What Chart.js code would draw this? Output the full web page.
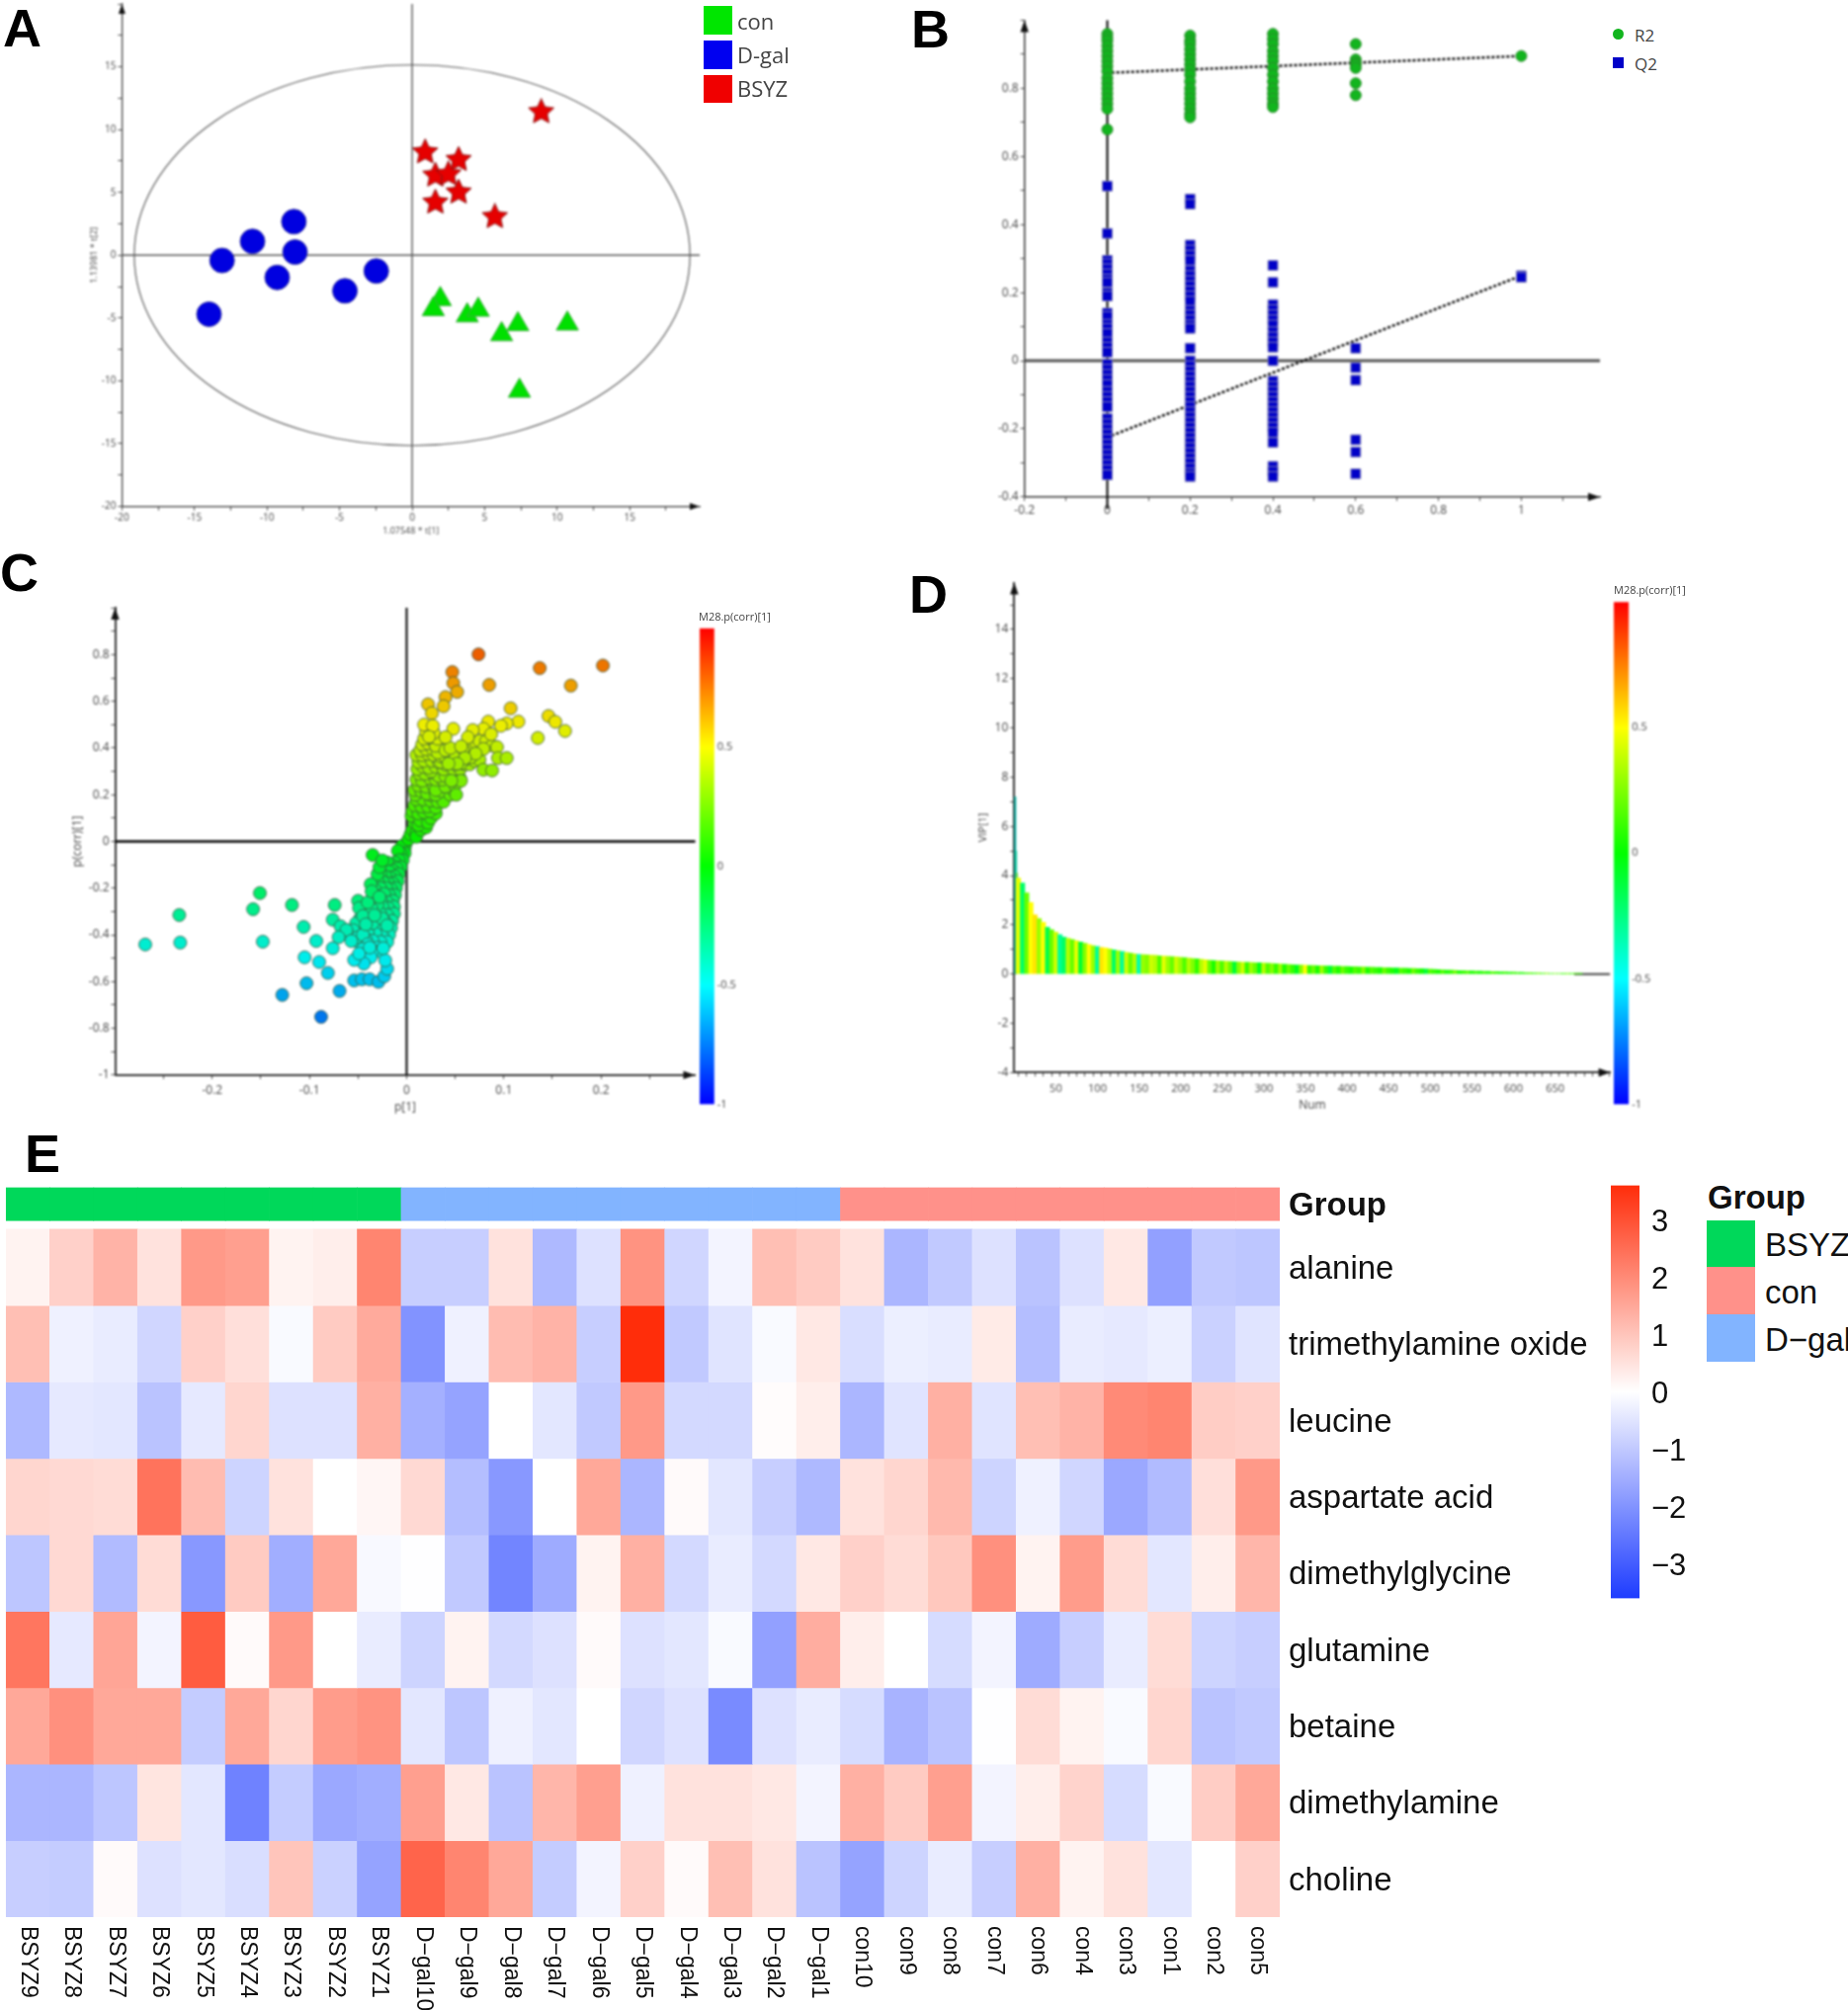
<!DOCTYPE html>
<html>
<head>
<meta charset="utf-8">
<title>Metabolomics panels</title>
<script src="https://cdn.jsdelivr.net/npm/chart.js@4"></script>
<style>
  html, body { margin: 0; background: #fff; }
  #page { position: relative; width: 1870px; height: 2034px; overflow: hidden; }
  canvas { position: absolute; }
  .soft { filter: blur(0.8px); }
  .t { position: absolute; white-space: nowrap; transform: translateY(-50%); line-height: 1; color: #111; }
  .letter { font: bold 54px "Liberation Sans"; color: #000; }
  .seg { font-family: "Open Sans"; color: #444; }
  .heat { font: 33px "Liberation Sans"; color: #111; }
  .sw { position: absolute; }
</style>
</head>
<body>
<div id="page">
  <canvas id="chartA" class="soft"></canvas>
  <canvas id="chartB" class="soft"></canvas>
  <canvas id="chartC" class="soft"></canvas>
  <canvas id="barC" class="soft"></canvas>
  <canvas id="chartD" class="soft"></canvas>
  <canvas id="barD" class="soft"></canvas>
  <canvas id="chartE"></canvas>
  <canvas id="barE"></canvas>

  <div class="t letter" style="left:3px;top:28px">A</div>
  <div class="t letter" style="left:922px;top:29px">B</div>
  <div class="t letter" style="left:0;top:579px">C</div>
  <div class="t letter" style="left:920px;top:601px">D</div>
  <div class="t letter" style="left:25px;top:1167px">E</div>

  <div class="sw" style="left:712px;top:6px;width:29px;height:29px;background:#00e600"></div>
  <div class="sw" style="left:712px;top:41px;width:29px;height:29px;background:#0000f0"></div>
  <div class="sw" style="left:712px;top:76px;width:29px;height:28px;background:#f00000"></div>
  <div class="t seg" style="left:746px;top:21px;font-size:22px">con</div>
  <div class="t seg" style="left:746px;top:55px;font-size:22px">D-gal</div>
  <div class="t seg" style="left:746px;top:89px;font-size:22px">BSYZ</div>

  <div class="sw" style="left:1632px;top:29px;width:11px;height:11px;border-radius:50%;background:#12b51e"></div>
  <div class="sw" style="left:1632px;top:58px;width:11px;height:11px;background:#0000c8"></div>
  <div class="t seg" style="left:1654px;top:35px;font-size:17px">R2</div>
  <div class="t seg" style="left:1654px;top:64px;font-size:17px">Q2</div>

  <div class="t seg" style="left:707px;top:623px;font-size:11px">M28.p(corr)[1]</div>
  <div class="t seg" style="left:1633px;top:596px;font-size:11px">M28.p(corr)[1]</div>

  <div class="t heat" style="left:1728px;top:1212px;font-weight:bold">Group</div>
  <div class="sw" style="left:1727px;top:1235px;width:49px;height:47px;background:#00d85a"></div>
  <div class="sw" style="left:1727px;top:1282px;width:49px;height:48px;background:#ff918a"></div>
  <div class="sw" style="left:1727px;top:1330px;width:49px;height:48px;background:#82b4ff"></div>
  <div class="t heat" style="left:1786px;top:1260px">BSYZ</div>
  <div class="t heat" style="left:1786px;top:1308px">con</div>
  <div class="t heat" style="left:1786px;top:1356px">D−gal</div>
</div>

<script>
// panel A: score plot
const conX = [1.94, 1.46, 3.8, 4.56, 7.29, 6.17, 10.7, 7.4];
const conY = [-3.5, -4.3, -4.8, -4.35, -5.5, -6.3, -5.45, -10.8];
const dgalX = [-8.15, -11.0, -8.07, -13.1, -9.3, -2.47, -4.63, -14.0];
const dgalY = [2.67, 1.1, 0.25, -0.42, -1.77, -1.26, -2.84, -4.7];
const bsyzX = [8.9, 0.9, 3.2, 1.6, 2.5, 3.2, 1.6, 5.7];
const bsyzY = [11.4, 8.2, 7.6, 6.35, 6.45, 5.0, 4.2, 3.05];
const ellipseRadiusX = 19.15;
const ellipseRadiusY = 15.15;

// panel B: permutation test
const r2At0 = [.96, .95, .94, .925, .91, .895, .88, .865, .85, .83, .815, .80, .785, .77, .755, .74, .679];
const r2At02 = [.955, .94, .93, .915, .90, .885, .87, .855, .84, .82, .80, .785, .77, .755, .74, .725, .715];
const r2At04 = [.96, .945, .93, .91, .895, .88, .86, .84, .82, .80, .785, .77, .755, .745];
const r2At06 = [.93, .885, .875, .87, .86, .815, .78];
const r2At1 = [.895];
const q2At0 = [.513, .374, .295, .285, .27, .255, .24, .23, .2, .19, .14, .13, .107, .095, .08, .055, .04, .025, -.01, -.025, -.04, -.055, -.07, -.09, -.105, -.12, -.135, -.17, -.185, -.2, -.215, -.23, -.245, -.26, -.275, -.29, -.305, -.32, -.335];
const q2At02 = [.475, .46, .34, .325, .31, .295, .265, .25, .235, .22, .205, .19, .175, .148, .135, .12, .105, .095, .037, 0, -.015, -.03, -.045, -.06, -.075, -.09, -.105, -.12, -.135, -.15, -.165, -.18, -.195, -.21, -.225, -.24, -.255, -.27, -.285, -.3, -.315, -.33, -.34];
const q2At04 = [.28, .23, .165, .15, .135, .12, .105, .085, .07, .055, .04, 0, -.06, -.075, -.09, -.105, -.12, -.135, -.15, -.165, -.18, -.195, -.21, -.24, -.31, -.325, -.34];
const q2At06 = [.037, -.02, -.057, -.232, -.268, -.332];
const q2At1 = [.25, .245];
const r2Trend = [[0.01, .846], [1, .895]];
const q2Trend = [[0.01, -.22], [1, .25]];

// panel C: S-plot, [p[1], p(corr)[1]]
const splotLower = [
  [-.001,-.01],[-.002,-.03],[-.005,-.02],[-.002,-.05],[-.006,-.05],[-.009,-.04],[-.004,-.08],[-.008,-.08],[-.012,-.09],[-.016,-.1],
  [-.02,-.09],[-.006,-.11],[-.01,-.115],[-.014,-.125],[-.018,-.13],[-.008,-.14],[-.012,-.15],[-.017,-.155],[-.022,-.15],[-.027,-.14],
  [-.009,-.17],[-.014,-.18],[-.019,-.18],[-.024,-.175],[-.03,-.17],[-.011,-.2],[-.016,-.205],[-.021,-.2],[-.027,-.2],[-.033,-.205],
  [-.012,-.23],[-.018,-.23],[-.023,-.225],[-.03,-.235],[-.014,-.255],[-.02,-.26],[-.026,-.255],[-.033,-.26],[-.013,-.28],[-.019,-.285],
  [-.025,-.28],[-.032,-.29],[-.04,-.28],[-.013,-.31],[-.02,-.315],[-.027,-.31],[-.035,-.3],[-.015,-.34],[-.022,-.345],[-.029,-.335],
  [-.037,-.33],[-.044,-.34],[-.016,-.37],[-.023,-.375],[-.03,-.365],[-.037,-.36],[-.045,-.365],[-.018,-.4],[-.025,-.405],[-.032,-.395],
  [-.04,-.39],[-.048,-.39],[-.02,-.43],[-.027,-.43],[-.035,-.425],[-.042,-.42],[-.05,-.43],[-.03,-.455],
  [-.045,-.3],[-.048,-.33],[-.052,-.35],[-.055,-.38],[-.06,-.4],[-.05,-.41],[-.045,-.4],[-.04,-.44],[-.028,-.47],[-.035,-.47],
  [-.045,-.46],[-.04,-.33],[-.03,-.27],[-.036,-.29],[-.035,-.24],[-.03,-.14],[-.028,-.11],[-.035,-.35],[-.025,-.33],[-.02,-.36],
  [-.035,-.058],[-.025,-.081],[-.151,-.221],[-.158,-.29],[-.118,-.272],[-.074,-.272],[-.234,-.315],[-.233,-.433],[-.269,-.441],[-.148,-.429],
  [-.106,-.366],[-.093,-.426],[-.076,-.335],[-.068,-.363],[-.062,-.379],[-.07,-.41],[-.057,-.426],[-.076,-.457],[-.105,-.496],[-.09,-.516],
  [-.081,-.563],[-.103,-.607],[-.128,-.657],[-.069,-.64],[-.088,-.751],[-.054,-.595],[-.046,-.59],[-.038,-.59],[-.029,-.601],[-.023,-.577],
  [-.02,-.545],[-.022,-.509],[-.037,-.496],[-.044,-.523],[-.054,-.507],[-.049,-.48],[-.038,-.454],[-.024,-.457],[-.05,-.254],[-.049,-.285],
  [-.04,-.261],[-.045,-.319],[-.042,-.355],[-.033,-.316],[-.037,-.183],[-.036,-.214],[-.028,-.238]
];
const splotUpper = [
  [.002,.01],[.004,.03],[.006,.05],[.01,.04],[.01,.02],[.015,.05],[.02,.06],[.008,.08],[.012,.07],[.005,.11],[.014,.09],[.022,.08],[.025,.1],[.03,.12],
  [.006,.13],[.012,.12],[.018,.125],[.024,.13],[.008,.155],[.015,.15],[.022,.15],[.03,.145],[.01,.18],[.017,.18],[.025,.175],[.032,.17],[.04,.19],[.038,.17],[.009,.2],[.024,.2],
  [.008,.22],[.015,.215],[.021,.205],[.03,.2],[.036,.215],[.045,.2],[.012,.24],[.02,.235],[.028,.235],[.034,.24],[.042,.25],[.03,.22],[.045,.23],[.04,.235],[.05,.24],[.055,.27],[.05,.29],
  [.01,.265],[.016,.26],[.024,.27],[.03,.265],[.037,.265],[.047,.26],[.013,.29],[.019,.29],[.027,.295],[.035,.29],[.043,.295],[.033,.28],[.04,.28],[.025,.3],
  [.011,.31],[.017,.32],[.023,.315],[.03,.32],[.038,.31],[.046,.325],[.048,.31],[.055,.31],[.012,.34],[.018,.345],[.026,.345],[.033,.34],[.04,.33],[.05,.33],[.06,.33],[.065,.33],[.07,.345],[.075,.35],[.035,.34],
  [.01,.37],[.016,.37],[.022,.375],[.028,.37],[.035,.365],[.04,.36],[.045,.35],[.05,.37],[.014,.39],[.02,.395],[.027,.395],[.034,.39],[.032,.38],[.06,.35],[.056,.335],[.066,.36],[.072,.385],
  [.016,.415],[.022,.42],[.029,.42],[.036,.42],[.03,.41],[.04,.39],[.045,.4],[.018,.44],[.024,.445],[.032,.44],[.02,.47],[.028,.465],[.062,.41],[.058,.395],[.072,.42],[.075,.43],[.082,.43],[.088,.41],
  [.074,.801],[.047,.725],[.048,.678],[.052,.64],[.04,.618],[.038,.579],[.085,.67],[.137,.742],[.169,.667],[.202,.753],[.022,.587],[.026,.549],
  [.107,.57],[.146,.537],[.153,.512],[.163,.473],[.135,.443],[.115,.513],[.103,.505],[.097,.495],[.084,.513],[.079,.482],[.068,.477],[.087,.459],
  [.063,.446],[.048,.482],[.04,.446],[.018,.5],[.027,.495],[.023,.448],[.093,.404],[.079,.396],[.056,.407],[.094,.357],[.103,.357],[.071,.376],
  [.06,.357],[.079,.307],[.088,.304],[.052,.333],[.043,.333],[.056,.26],[.051,.2],[.046,.26]
];

// panel D: VIP values, one bar per five Num
const vipPeak = [[1, 7.2], [2, 5], [3, 4.1]];
const vipValues = [3.9, 3.7, 3.3, 2.9, 2.4, 2.25, 2.1, 1.9, 1.8, 1.7, 1.6, 1.5, 1.45, 1.4, 1.35, 1.3, 1.25, 1.2, 1.15, 1.12,
  1.08, 1.06, 1.02, .98, .95, .92, .88, .85, .82, .8, .79, .78, .77, .76, .74, .73, .72, .71, .7, .68,
  .67, .65, .63, .62, .6, .58, .56, .55, .54, .53, .52, .51, .5, .49, .48, .47, .46, .45, .45, .44,
  .43, .42, .41, .4, .39, .38, .37, .36, .36, .35, .34, .34, .33, .33, .32, .32, .31, .31, .3, .3,
  .29, .29, .28, .28, .27, .27, .26, .26, .25, .25, .24, .24, .23, .23, .22, .22, .21, .21, .2, .19,
  .18, .17, .16, .15, .15, .14, .13, .13, .12, .12, .11, .11, .1, .1, .09, .09, .08, .08, .07, .07,
  .06, .06, .05, .05, .04, .04, .03, .03, .02, .02, .02, .01, .01, .01, .01, .01];
const vipCorr = [.45, -.2, .2, .5, .55, .3, .5, -.15, .2, .4, -.3, -.2, .35, .2, .45, -.1, .25, .5, .3, -.3,
  .55, .5, .35, -.2, .3, -.3, .4, .2, .35, -.35, .3, .25, .4, .35, .15, .45, .3, .2, .4, .3,
  .15, .35, .25, .1, .35, .45, .2, .05, .3, .15, .35, .2, -.1, .25, .4, .1, .3, .2, -.05, .35,
  .15, .25, .1, .3, .05, .2, .1, -.05, .25, .5, .1, .2, .05, .3, .1, -.1, .15, .05, .2, .1,
  .05, .15, .1, .25, .05, .15, .1, .05, .2, .1, .05, -.05, .15, .1, .05, .2, .1, .05, -.1, .15,
  .1, .05, .15, .05, .1, .2, .05, .1, .15, .05, .1, .05, .1, .05, .15, .1, .05, .1, .05, .1,
  .1, .05, .1, .15, .1, .2, .1, .25, .1, .2, .15, .1, .2, .1, .15, .1];
const vipTail = [[673, 0], [716, 0]];

// panel E: heatmap z-scores
const samples = ["BSYZ9","BSYZ8","BSYZ7","BSYZ6","BSYZ5","BSYZ4","BSYZ3","BSYZ2","BSYZ1",
  "D−gal10","D−gal9","D−gal8","D−gal7","D−gal6","D−gal5","D−gal4","D−gal3","D−gal2","D−gal1",
  "con10","con9","con8","con7","con6","con4","con3","con1","con2","con5"];
const metabolites = ["alanine","trimethylamine oxide","leucine","aspartate acid","dimethylglycine","glutamine","betaine","dimethylamine","choline"];
const alanine = [.2,.8,1.3,.5,1.75,1.65,.2,.3,2.1, -.9,-.9,.5,-1.3,-.55,1.85,-.75,-.2,1.1,.9, .5,-1.35,-1,-.55,-1.1,-.55,.4,-1.75,-1,-1.05];
const tmao = [1.1,-.25,-.35,-.75,.8,.55,-.1,.9,1.45, -2,-.25,1.15,1.3,-.9,3.6,-1,-.5,-.1,.4, -.6,-.3,-.35,.35,-1.2,-.35,-.4,-.3,-.85,-.5];
const leucine = [-1.3,-.4,-.45,-1.1,-.4,.7,-.55,-.55,1.35, -1.45,-1.7,0,-.45,-1,1.75,-.7,-.7,.05,.3, -1.35,-.5,1.35,-.5,1.1,1.3,2,2.1,.85,.8];
const aspartate = [.7,.65,.6,2.4,1.15,-.8,.5,0,.15, .65,-1.2,-1.9,0,1.5,-1.35,.08,-.45,-.9,-1.3, .5,.7,1.2,-.8,-.25,-.75,-1.6,-1.25,.55,1.75];
const dimethylglycine = [-1.05,.65,-1.25,.6,-1.9,.9,-1.5,1.5,-.12, -.02,-1,-2.25,-1.55,.2,1.35,-.7,-.35,-.7,.4, .8,.6,.95,1.9,.2,1.7,.6,-.45,.3,1.25];
const glutamine = [2.35,-.4,1.55,-.2,2.8,.08,1.75,0,-.35, -.8,.2,-.7,-.55,.08,-.55,-.45,-.1,-1.75,1.4, .3,0,-.65,-.2,-1.55,-.9,-.35,.6,-.8,-.9];
const betaine = [1.5,1.9,1.5,1.5,-.95,1.5,.7,1.7,1.85, -.45,-1.05,-.25,-.45,0,-.75,-.55,-2.15,-.55,-.35, -.65,-1.4,-1.1,-.02,.6,.2,-.1,.7,-1.1,-1];
const dimethylamine = [-1.35,-1.35,-1.05,.45,-.45,-2.3,-.95,-1.6,-1.5, 1.65,.4,-1.1,1.25,1.65,-.25,.5,.5,.4,-.2, 1.35,.9,1.65,-.2,.3,.75,-.65,-.1,.85,1.5];
const choline = [-.9,-.95,.08,-.55,-.45,-.6,1,-.85,-1.7, 2.65,2.1,1.5,-.95,-.2,.8,.08,1.1,.5,-1.1, -1.7,-.8,-.35,-.9,1.35,.2,.5,-.45,0,.8];
const heatRows = [alanine, tmao, leucine, aspartate, dimethylglycine, glutamine, betaine, dimethylamine, choline];
const sampleGroupColors = { BSYZ: "#00d85a", "D−gal": "#82b4ff", con: "#ff918a" };

const corrStops = [[-1, [0, 0, 255]], [-.5, [0, 255, 255]], [0, [0, 255, 0]], [.5, [255, 255, 0]], [1, [255, 0, 0]]];
const heatStops = [[-3.6, [30, 60, 255]], [0, [255, 255, 255]], [3.6, [255, 45, 10]]];

const tickFont = "Open Sans";

function stopColor(stops, v, shade = 1) {
  let i = 0;
  while (i < stops.length - 2 && v > stops[i + 1][0]) i++;
  const [a, ca] = stops[i], [b, cb] = stops[i + 1];
  const f = Math.min(1, Math.max(0, (v - a) / (b - a)));
  const rgb = ca.map((c, k) => Math.round((c + (cb[k] - c) * f) * shade));
  return `rgb(${rgb[0]},${rgb[1]},${rgb[2]})`;
}

// sizes a canvas so that the plot area lands on the given box of the page
function place(id, box, pad) {
  const c = document.getElementById(id);
  const left = Math.floor(box.l - pad.l), top = Math.floor(box.t - pad.t);
  c.width = Math.ceil(box.r + pad.r) - left;
  c.height = Math.ceil(box.b + pad.b) - top;
  c.style.left = left + "px";
  c.style.top = top + "px";
  return { c, left: box.l - left, top: box.t - top, right: c.width - (box.r - left), bottom: c.height - (box.b - top) };
}

function labelEvery(step, last) {
  return (v) => {
    const k = v / step;
    if (Math.abs(k - Math.round(k)) > 1e-6 || v > last + 1e-6) return "";
    return String(Math.round(v * 100) / 100);
  };
}

function axis(min, max, step, every, last, o = {}) {
  return {
    type: "linear", min, max, offset: false,
    border: { color: o.color || "#333", width: o.width || 1.2 },
    grid: { drawOnChartArea: false, tickLength: 4, tickColor: "#444" },
    title: o.title ? { display: true, text: o.title, padding: 0, color: "#444", font: { family: tickFont, size: o.titleSize || 11 } } : { display: false },
    ticks: {
      stepSize: step, includeBounds: false, autoSkip: false, maxRotation: 0, padding: o.tickPad || 2,
      color: "#444", font: { family: tickFont, size: o.size || 11 },
      callback: labelEvery(every, last)
    }
  };
}

function arrowPlugin(opts) {
  return {
    id: "crossLines",
    beforeDatasetsDraw(chart) {
      const { ctx, scales: { x, y }, chartArea: a } = chart;
      ctx.save();
      if (opts.ellipse) {
        ctx.strokeStyle = "#777";
        ctx.lineWidth = 1.4;
        ctx.beginPath();
        ctx.ellipse(x.getPixelForValue(0), y.getPixelForValue(0),
          x.getPixelForValue(opts.ellipse[0]) - x.getPixelForValue(0),
          y.getPixelForValue(0) - y.getPixelForValue(opts.ellipse[1]), 0, 0, Math.PI * 2);
        ctx.stroke();
      }
      if (opts.hLine) {
        ctx.strokeStyle = opts.hLine[0];
        ctx.lineWidth = opts.hLine[1];
        ctx.beginPath();
        ctx.moveTo(a.left, y.getPixelForValue(0));
        ctx.lineTo(a.right + (opts.hExtra || 0), y.getPixelForValue(0));
        ctx.stroke();
      }
      if (opts.vLine) {
        ctx.strokeStyle = opts.vLine[0];
        ctx.lineWidth = opts.vLine[1];
        ctx.beginPath();
        ctx.moveTo(x.getPixelForValue(0), a.top);
        ctx.lineTo(x.getPixelForValue(0), a.bottom + (opts.vExtra || 0));
        ctx.stroke();
      }
      ctx.restore();
    },
    afterDraw(chart) {
      const { ctx, chartArea: a } = chart;
      const s = opts.arrow || 5;
      ctx.save();
      ctx.fillStyle = "#111";
      ctx.beginPath();
      ctx.moveTo(a.left, a.top);
      ctx.lineTo(a.left - s * 0.7, a.top + s * 2);
      ctx.lineTo(a.left + s * 0.7, a.top + s * 2);
      ctx.fill();
      ctx.beginPath();
      ctx.moveTo(a.right, a.bottom);
      ctx.lineTo(a.right - s * 2, a.bottom - s * 0.7);
      ctx.lineTo(a.right - s * 2, a.bottom + s * 0.7);
      ctx.fill();
      ctx.restore();
    }
  };
}

function scatterChart(id, box, pad, xAxis, yAxis, datasets, plugin) {
  const p = place(id, box, pad);
  xAxis.afterFit = (s) => { s.height = p.bottom; };
  yAxis.afterFit = (s) => { s.width = p.left; };
  return new Chart(p.c, {
    type: "scatter",
    data: { datasets },
    options: {
      responsive: false, animation: false,
      layout: { autoPadding: false, padding: { top: p.top, right: p.right } },
      plugins: { legend: { display: false }, tooltip: { enabled: false } },
      scales: { x: xAxis, y: yAxis }
    },
    plugins: [plugin]
  });
}

function colorBar(id, box, min, max, stops, step, fmt, fontOpts, padRight, padY, labelShift = 0) {
  const p = place(id, box, { l: 0, t: padY, r: padRight, b: padY });
  new Chart(p.c, {
    type: "bar",
    data: {
      labels: [""],
      datasets: [{
        data: [[min, max]],
        barPercentage: 1, categoryPercentage: 1,
        backgroundColor(ctx) {
          const a = ctx.chart.chartArea;
          if (!a) return "#fff";
          const g = ctx.chart.ctx.createLinearGradient(0, a.bottom, 0, a.top);
          const n = 28;
          for (let i = 0; i <= n; i++) g.addColorStop(i / n, stopColor(stops, min + (max - min) * i / n));
          return g;
        }
      }]
    },
    options: {
      responsive: false, animation: false,
      layout: { autoPadding: false, padding: { top: p.top, bottom: p.bottom } },
      plugins: { legend: { display: false }, tooltip: { enabled: false } },
      scales: {
        x: { display: false },
        y: {
          position: "right", min, max,
          afterFit(s) { s.width = p.right; },
          afterBuildTicks(s) { s.ticks = s.ticks.map((t) => ({ value: t.value + labelShift })); },
          border: { display: false }, grid: { display: false, drawTicks: false },
          ticks: {
            stepSize: step, includeBounds: false, autoSkip: false, padding: fontOpts.padding, color: fontOpts.color, font: fontOpts.font,
            callback: (v) => fmt(Math.round((v - labelShift) * 100) / 100)
          }
        }
      }
    }
  });
}

const toPoints = (xs, ys) => xs.map((x, i) => ({ x, y: ys[i] }));
const atX = (x, ys) => ys.map((y) => ({ x, y }));
const pairs = (list) => list.map(([x, y]) => ({ x, y }));

// filled star for panel A, Chart.js has only a line star
function starImage(size) {
  const c = document.createElement("canvas");
  c.width = c.height = size;
  const g = c.getContext("2d"), m = size / 2;
  g.beginPath();
  for (let i = 0; i < 10; i++) {
    const r = i % 2 ? size * 0.23 : size * 0.48, t = -Math.PI / 2 + i * Math.PI / 5;
    g.lineTo(m + r * Math.cos(t), m + r * Math.sin(t));
  }
  g.closePath();
  g.fillStyle = "#e60000";
  g.fill();
  g.strokeStyle = "#8a1010";
  g.lineWidth = 1;
  g.stroke();
  return c;
}

// A
scatterChart("chartA", { l: 123.4, r: 708, t: 4, b: 512.5 }, { l: 33, r: 6, t: 14, b: 30 },
  axis(-20, 19.82, 2.5, 5, 15, { title: "1.07548 * t[1]", titleSize: 9, size: 10 }),
  axis(-20, 20, 2.5, 5, 15, { title: "1.13981 * t[2]", titleSize: 9, size: 10 }),
  [
    { label: "con", data: toPoints(conX, conY), pointStyle: "triangle", pointRadius: 13, backgroundColor: "#00e000", borderColor: "#3fae3f", borderWidth: 1 },
    { label: "D-gal", data: toPoints(dgalX, dgalY), pointStyle: "circle", pointRadius: 12.5, backgroundColor: "#0000e0", borderColor: "#3333a0", borderWidth: 1 },
    { label: "BSYZ", data: toPoints(bsyzX, bsyzY), pointStyle: starImage(28) }
  ],
  arrowPlugin({ ellipse: [ellipseRadiusX, ellipseRadiusY], hLine: ["#555", 1.6], vLine: ["#555", 1.4] }));

// B
const r2Style = { pointStyle: "circle", pointRadius: 5.5, backgroundColor: "#12b51e", borderColor: "#2a8a2a", borderWidth: 1 };
const q2Style = { pointStyle: "rect", pointRadius: 7, backgroundColor: "#0000c8", borderColor: "#8080b8", borderWidth: 1 };
const trendStyle = { showLine: true, pointRadius: 0, borderColor: "#111", borderWidth: 2.5, borderDash: [3, 2] };
scatterChart("chartB", { l: 1036.7, r: 1619, t: 20.5, b: 502.9 }, { l: 34, r: 6, t: 14, b: 30 },
  axis(-.2, 1.19, .1, .2, 1, { size: 12, width: 1.5 }),
  axis(-.4, 1, .1, .2, .8, { size: 12, width: 1.5 }),
  [
    { label: "R2", data: [...atX(0, r2At0), ...atX(.2, r2At02), ...atX(.4, r2At04), ...atX(.6, r2At06), ...atX(1, r2At1)], ...r2Style },
    { label: "Q2", data: [...atX(0, q2At0), ...atX(.2, q2At02), ...atX(.4, q2At04), ...atX(.6, q2At06), ...atX(1, q2At1)], ...q2Style },
    { label: "R2 trend", data: pairs(r2Trend), ...trendStyle },
    { label: "Q2 trend", data: pairs(q2Trend), ...trendStyle }
  ],
  arrowPlugin({ hLine: ["#555", 3], vLine: ["#000", 2], vExtra: 12, arrow: 6 }));

// C
const splotPoints = pairs([...splotLower, ...splotUpper]);
scatterChart("chartC", { l: 116.5, r: 703.5, t: 615.1, b: 1087.9 }, { l: 45, r: 4, t: 14, b: 40 },
  axis(-.3, .297, .05, .1, .2, { title: "p[1]", titleSize: 12, size: 12, width: 2, tickPad: 4 }),
  axis(-1, 1, .1, .2, .8, { title: "p(corr)[1]", titleSize: 12, size: 12, width: 2 }),
  [{
    label: "p(corr)", data: splotPoints, pointStyle: "circle", pointRadius: 6.5, borderWidth: 1,
    borderColor: "rgba(55,85,60,.8)",
    backgroundColor: splotPoints.map((pt) => stopColor(corrStops, pt.y, .93))
  }],
  arrowPlugin({ hLine: ["#000", 2.4], vLine: ["#000", 2], arrow: 6 }));

colorBar("barC", { l: 708.7, r: 722.8, t: 635.8, b: 1117.5 }, -1, 1, corrStops, .5,
  (v) => (v >= 1 ? "" : String(v)), { padding: 3, color: "#444", font: { family: tickFont, size: 11 } }, 30, 14);

// D
const pD = place("chartD", { l: 1026.3, r: 1629.6, t: 589.6, b: 1085.3 }, { l: 38, r: 4, t: 14, b: 40 });
const xD = axis(0, 716.5, 10, 50, 650, { title: "Num", titleSize: 12, size: 11, width: 2, tickPad: 6 });
const yD = axis(-4, 15.9, 1, 2, 14, { title: "VIP[1]", titleSize: 11, size: 12, width: 2 });
xD.afterFit = (s) => { s.height = pD.bottom; };
yD.afterFit = (s) => { s.width = pD.left; };
xD.ticks.callback = (v) => (v > 0 ? labelEvery(50, 650)(v) : "");
new Chart(pD.c, {
  type: "bar",
  data: {
    datasets: [
      {
        label: "VIP", grouped: false, barThickness: 4.4, borderWidth: 0,
        data: vipValues.map((y, i) => ({ x: 5 + i * 5, y })),
        backgroundColor: vipCorr.map((v) => stopColor(corrStops, v))
      },
      { label: "VIP top", grouped: false, barThickness: 1.6, borderWidth: 0, data: pairs(vipPeak), backgroundColor: ["#00b0a0", "#10c8a0", "#60d040"] },
      { type: "line", label: "tail", data: pairs(vipTail), borderColor: "#444", borderWidth: 2, pointRadius: 0 }
    ]
  },
  options: {
    responsive: false, animation: false,
    layout: { autoPadding: false, padding: { top: pD.top, right: pD.right } },
    plugins: { legend: { display: false }, tooltip: { enabled: false } },
    scales: { x: xD, y: yD }
  },
  plugins: [arrowPlugin({ arrow: 6 })]
});

colorBar("barD", { l: 1633.4, r: 1648.2, t: 609.2, b: 1117.5 }, -1, 1, corrStops, .5,
  (v) => (v >= 1 ? "" : String(v)), { padding: 3, color: "#444", font: { family: tickFont, size: 11 } }, 30, 14);

// E
const rowHeight = 1;
const groupBand = [-.545, -.112];
const groupOf = (s) => s.replace(/[0-9]+$/, "");
const heatDatasets = [{
  label: "Group", grouped: false, barPercentage: 1, categoryPercentage: 1, borderWidth: 0,
  data: samples.map(() => groupBand),
  backgroundColor: samples.map((s) => sampleGroupColors[groupOf(s)])
}].concat(heatRows.map((row, r) => ({
  label: metabolites[r], grouped: false, barPercentage: 1, categoryPercentage: 1, borderWidth: 0,
  data: row.map(() => [r, r + rowHeight]),
  backgroundColor: row.map((z) => stopColor(heatStops, z))
})));

const pE = place("chartE", { l: 5.9, r: 1295, t: 1201.6, b: 1940 }, { l: 5.9, r: 330, t: 30, b: 94 });
const rowLabels = [{ value: -.3, text: "Group" }].concat(metabolites.map((text, i) => ({ value: i + .53, text })));
new Chart(pE.c, {
  type: "bar",
  data: { labels: samples, datasets: heatDatasets },
  options: {
    responsive: false, animation: false,
    layout: { autoPadding: false, padding: { left: pE.left, top: pE.top, bottom: pE.bottom } },
    plugins: { legend: { display: false }, tooltip: { enabled: false } },
    scales: {
      x: { display: false },
      y: {
        position: "right", reverse: true, min: groupBand[0], max: 9,
        afterFit(s) { s.width = pE.right; },
        afterBuildTicks(s) { s.ticks = rowLabels.map((r) => ({ value: r.value })); },
        border: { display: false }, grid: { display: false, drawTicks: false },
        ticks: {
          autoSkip: false, padding: 9, color: "#111",
          font: (c) => ({ family: "Liberation Sans", size: 33, weight: c.tick && c.tick.value < 0 ? "bold" : "normal" }),
          callback: (v) => (rowLabels.find((r) => r.value === v) || {}).text
        }
      }
    }
  },
  plugins: [{
    id: "sampleLabels",
    afterDraw(chart) {
      const { ctx, scales: { x }, chartArea: a } = chart;
      ctx.save();
      ctx.fillStyle = "#111";
      ctx.font = '23px "Liberation Sans"';
      ctx.textAlign = "left";
      ctx.textBaseline = "middle";
      samples.forEach((s, i) => {
        ctx.save();
        ctx.translate(x.getPixelForValue(i), a.bottom + 9);
        ctx.rotate(Math.PI / 2);
        ctx.fillText(s, 0, 0);
        ctx.restore();
      });
      ctx.restore();
    }
  }]
});

colorBar("barE", { l: 1630.6, r: 1659, t: 1199.2, b: 1617.5 }, -3.6, 3.6, heatStops, 1,
  (v) => String(v).replace("-", "−"), { padding: 12, color: "#111", font: { family: "Liberation Sans", size: 31 } }, 60, 30, -.05);
</script>
</body>
</html>
